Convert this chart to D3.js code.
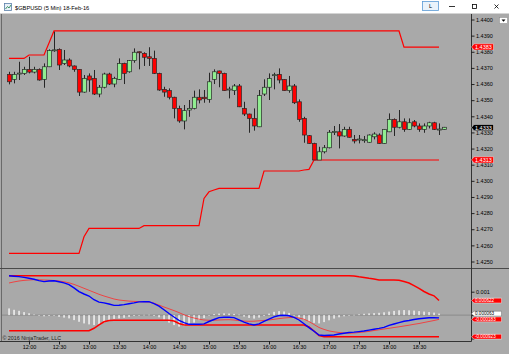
<!DOCTYPE html>
<html><head><meta charset="utf-8">
<script src="https://cdn.jsdelivr.net/npm/d3@7"></script>
<style>
html,body{margin:0;padding:0;background:#fff;}
svg{display:block;font-family:"Liberation Sans",Arial,sans-serif;}
</style>
</head><body>
<svg id="c" width="509" height="354"></svg>
<script>
// ---------------- DATA ----------------
const titleText = "$GBPUSD (5 Min)  18-Feb-16";
const times = ["11:40","11:45","11:50","11:55",
"12:00","12:05","12:10","12:15","12:20","12:25","12:30","12:35","12:40","12:45","12:50","12:55",
"13:00","13:05","13:10","13:15","13:20","13:25","13:30","13:35","13:40","13:45","13:50","13:55",
"14:00","14:05","14:10","14:15","14:20","14:25","14:30","14:35","14:40","14:45","14:50","14:55",
"15:00","15:05","15:10","15:15","15:20","15:25","15:30","15:35","15:40","15:45","15:50","15:55",
"16:00","16:05","16:10","16:15","16:20","16:25","16:30","16:35","16:40","16:45","16:50","16:55",
"17:00","17:05","17:10","17:15","17:20","17:25","17:30","17:35","17:40","17:45","17:50","17:55",
"18:00","18:05","18:10","18:15","18:20","18:25","18:30","18:35","18:40","18:45","18:50","18:55"];
const timeTickLabels = ["12:00","12:30","13:00","13:30","14:00","14:30","15:00","15:30","16:00","16:30","17:00","17:30","18:00","18:30"];

const open  = [1.43660,1.43629,1.43664,1.43666,1.43691,1.43674,1.43691,1.43629,1.43707,1.43810,
1.43815,1.43728,1.43749,1.43712,1.43691,1.43550,1.43650,1.43635,1.43538,1.43580,
1.43662,1.43600,1.43629,1.43728,1.43676,1.43745,1.43800,1.43790,1.43769,1.43759,
1.43666,1.43567,1.43559,1.43518,1.43449,1.43371,1.43439,1.43449,1.43518,1.43518,
1.43505,1.43629,1.43681,1.43666,1.43565,1.43559,1.43588,1.43449,1.43414,1.43387,
1.43335,1.43538,1.43580,1.43654,1.43660,1.43629,1.43559,1.43588,1.43490,1.43387,
1.43280,1.43232,1.43129,1.43180,1.43205,1.43302,1.43304,1.43278,1.43319,1.43257,
1.43255,1.43251,1.43239,1.43273,1.43284,1.43232,1.43304,1.43381,1.43332,1.43366,
1.43319,1.43366,1.43340,1.43319,1.43340,1.43360,1.43317,1.43319];
const high  = [1.43676,1.43676,1.43738,1.43707,1.43769,1.43707,1.43697,1.43728,1.43815,1.43925,
1.43821,1.43811,1.43759,1.43715,1.43693,1.43656,1.43666,1.43687,1.43594,1.43670,
1.43670,1.43645,1.43759,1.43732,1.43749,1.43821,1.43802,1.43797,1.43828,1.43807,
1.43670,1.43583,1.43573,1.43521,1.43466,1.43470,1.43501,1.43559,1.43567,1.43563,
1.43670,1.43691,1.43683,1.43670,1.43583,1.43600,1.43600,1.43490,1.43416,1.43449,
1.43563,1.43629,1.43666,1.43670,1.43697,1.43631,1.43650,1.43600,1.43505,1.43397,
1.43284,1.43236,1.43211,1.43222,1.43315,1.43340,1.43352,1.43335,1.43335,1.43284,
1.43284,1.43278,1.43288,1.43301,1.43294,1.43321,1.43418,1.43387,1.43439,1.43387,
1.43387,1.43377,1.43356,1.43356,1.43366,1.43366,1.43356,1.43334];
const low   = [1.43598,1.43604,1.43625,1.43656,1.43666,1.43666,1.43621,1.43577,1.43705,1.43800,
1.43687,1.43718,1.43704,1.43676,1.43526,1.43546,1.43552,1.43532,1.43518,1.43573,
1.43594,1.43580,1.43625,1.43600,1.43670,1.43732,1.43691,1.43712,1.43712,1.43662,
1.43558,1.43521,1.43505,1.43387,1.43360,1.43319,1.43397,1.43443,1.43480,1.43484,
1.43484,1.43600,1.43580,1.43557,1.43511,1.43532,1.43457,1.43402,1.43298,1.43311,
1.43333,1.43526,1.43501,1.43567,1.43604,1.43557,1.43546,1.43476,1.43366,1.43236,
1.43230,1.43129,1.43130,1.43170,1.43201,1.43284,1.43201,1.43273,1.43268,1.43232,
1.43232,1.43236,1.43236,1.43257,1.43230,1.43230,1.43302,1.43278,1.43325,1.43304,
1.43315,1.43332,1.43304,1.43298,1.43325,1.43315,1.43284,1.43317];
const close = [1.43614,1.43660,1.43668,1.43691,1.43674,1.43691,1.43625,1.43707,1.43807,1.43812,
1.43718,1.43749,1.43712,1.43691,1.43550,1.43635,1.43625,1.43538,1.43580,1.43662,
1.43600,1.43635,1.43728,1.43666,1.43745,1.43797,1.43794,1.43766,1.43759,1.43666,
1.43563,1.43550,1.43518,1.43449,1.43371,1.43435,1.43449,1.43518,1.43501,1.43509,
1.43614,1.43676,1.43666,1.43559,1.43569,1.43588,1.43459,1.43414,1.43387,1.43340,
1.43528,1.43580,1.43635,1.43658,1.43625,1.43559,1.43588,1.43484,1.43381,1.43284,
1.43232,1.43129,1.43180,1.43205,1.43301,1.43306,1.43278,1.43319,1.43270,1.43247,
1.43259,1.43255,1.43284,1.43290,1.43232,1.43319,1.43381,1.43332,1.43366,1.43319,
1.43360,1.43340,1.43319,1.43340,1.43360,1.43319,1.43321,1.43332];

// price channel (upper / lower), one value per completed bar
const channelUpper = [1.43759,1.43759,1.43759,1.43759,1.43780,1.43780,1.43780,1.43780,1.43854,1.43929,
1.43929,1.43929,1.43929,1.43929,1.43929,1.43929,1.43929,1.43929,1.43929,1.43929,
1.43929,1.43929,1.43929,1.43929,1.43929,1.43929,1.43929,1.43929,1.43929,1.43929,
1.43929,1.43929,1.43929,1.43929,1.43929,1.43929,1.43929,1.43929,1.43929,1.43929,
1.43929,1.43929,1.43929,1.43929,1.43929,1.43929,1.43929,1.43929,1.43929,1.43929,
1.43929,1.43929,1.43929,1.43929,1.43929,1.43929,1.43929,1.43929,1.43929,1.43929,
1.43929,1.43929,1.43929,1.43929,1.43929,1.43929,1.43929,1.43929,1.43929,1.43929,
1.43929,1.43929,1.43929,1.43929,1.43929,1.43929,1.43929,1.43929,1.43929,1.43829,
1.43829,1.43829,1.43829,1.43829,1.43829,1.43829,1.43829];
const channelLower = [1.42550,1.42550,1.42550,1.42550,1.42550,1.42550,1.42550,1.42550,1.42550,1.42550,
1.42550,1.42550,1.42550,1.42550,1.42550,1.42653,1.42705,1.42705,1.42705,1.42705,
1.42705,1.42705,1.42705,1.42705,1.42705,1.42705,1.42705,1.42722,1.42722,1.42722,
1.42722,1.42722,1.42722,1.42722,1.42722,1.42722,1.42722,1.42722,1.42722,1.42891,
1.42932,1.42943,1.42953,1.42953,1.42953,1.42953,1.42953,1.42953,1.42953,1.42953,
1.42953,1.43061,1.43061,1.43061,1.43061,1.43061,1.43061,1.43061,1.43061,1.43067,
1.43071,1.43129,1.43129,1.43129,1.43129,1.43129,1.43129,1.43129,1.43129,1.43129,
1.43129,1.43129,1.43129,1.43129,1.43129,1.43129,1.43129,1.43129,1.43129,1.43129,
1.43129,1.43129,1.43129,1.43129,1.43129,1.43129,1.43129];

// lower panel (MACD style)
const macdLine = [0.001684,0.001663,0.001645,0.001611,0.001577,0.001530,0.001475,0.001432,0.001457,0.001466,
0.001423,0.001376,0.001304,0.001163,0.001004,0.000902,0.000816,0.000658,0.000556,0.000521,
0.000474,0.000415,0.000423,0.000449,0.000483,0.000521,0.000564,0.000573,0.000573,0.000487,
0.000380,0.000231,0.000068,-0.000081,-0.000222,-0.000321,-0.000393,-0.000393,-0.000393,-0.000376,
-0.000274,-0.000188,-0.000107,-0.000094,-0.000094,-0.000107,-0.000201,-0.000299,-0.000372,-0.000425,
-0.000376,-0.000269,-0.000171,-0.000077,-0.000017,-0.000004,-0.000030,-0.000098,-0.000209,-0.000372,
-0.000534,-0.000688,-0.000851,-0.000872,-0.000863,-0.000851,-0.000808,-0.000774,-0.000744,-0.000727,
-0.000705,-0.000680,-0.000641,-0.000603,-0.000568,-0.000526,-0.000440,-0.000380,-0.000321,-0.000265,
-0.000231,-0.000188,-0.000158,-0.000137,-0.000115,-0.000111,-0.000120];
const macdAvg = [0.001372,0.001419,0.001457,0.001483,0.001500,0.001513,0.001509,0.001500,0.001492,0.001479,
0.001457,0.001423,0.001381,0.001312,0.001231,0.001145,0.001060,0.000974,0.000889,0.000816,
0.000752,0.000688,0.000645,0.000620,0.000598,0.000586,0.000577,0.000568,0.000560,0.000509,
0.000427,0.000346,0.000269,0.000192,0.000107,0.000013,-0.000068,-0.000124,-0.000175,-0.000209,
-0.000222,-0.000218,-0.000209,-0.000201,-0.000197,-0.000209,-0.000235,-0.000256,-0.000265,-0.000261,
-0.000244,-0.000227,-0.000209,-0.000180,-0.000150,-0.000124,-0.000107,-0.000098,-0.000124,-0.000175,
-0.000274,-0.000402,-0.000530,-0.000611,-0.000675,-0.000714,-0.000744,-0.000765,-0.000778,-0.000765,
-0.000744,-0.000722,-0.000697,-0.000658,-0.000628,-0.000594,-0.000564,-0.000530,-0.000500,-0.000466,
-0.000432,-0.000393,-0.000359,-0.000316,-0.000274,-0.000231,-0.000183];
const macdDiff = [0.000286,0.000227,0.000184,0.000128,0.000077,0.000026,-0.000026,-0.000051,-0.000034,-0.000026,
-0.000073,-0.000107,-0.000141,-0.000214,-0.000286,-0.000355,-0.000397,-0.000427,-0.000397,-0.000312,
-0.000214,-0.000162,-0.000141,-0.000115,-0.000073,-0.000034,-0.000013,0.000013,0.000017,-0.000034,
-0.000094,-0.000192,-0.000321,-0.000427,-0.000492,-0.000470,-0.000427,-0.000321,-0.000214,-0.000128,
-0.000021,0.000043,0.000064,0.000073,0.000064,0.000051,0.000021,-0.000064,-0.000120,-0.000150,
-0.000107,-0.000034,0.000064,0.000141,0.000171,0.000154,0.000094,-0.000021,-0.000107,-0.000192,
-0.000278,-0.000333,-0.000355,-0.000299,-0.000222,-0.000150,-0.000094,-0.000051,-0.000026,0.000013,
0.000034,0.000056,0.000073,0.000085,0.000098,0.000120,0.000150,0.000180,0.000205,0.000214,
0.000205,0.000192,0.000171,0.000150,0.000128,0.000107,0.000063];
const bandUpper = [0.001684,0.001684,0.001684,0.001684,0.001684,0.001684,0.001684,0.001684,0.001684,0.001684,
0.001684,0.001684,0.001684,0.001684,0.001684,0.001684,0.001684,0.001684,0.001684,0.001684,
0.001684,0.001684,0.001684,0.001684,0.001684,0.001684,0.001684,0.001684,0.001684,0.001684,
0.001684,0.001684,0.001684,0.001684,0.001684,0.001684,0.001684,0.001684,0.001684,0.001684,
0.001684,0.001684,0.001684,0.001684,0.001684,0.001684,0.001684,0.001684,0.001684,0.001684,
0.001684,0.001684,0.001684,0.001684,0.001684,0.001684,0.001684,0.001684,0.001684,0.001684,
0.001684,0.001684,0.001684,0.001684,0.001684,0.001684,0.001684,0.001684,0.001684,0.001671,
0.001637,0.001611,0.001573,0.001543,0.001504,0.001500,0.001500,0.001500,0.001487,0.001432,
0.001372,0.001261,0.001141,0.001009,0.000902,0.000825,0.000622];
const bandLower = [-0.000667,-0.000667,-0.000667,-0.000667,-0.000667,-0.000667,-0.000667,-0.000667,-0.000667,-0.000667,
-0.000667,-0.000667,-0.000667,-0.000667,-0.000667,-0.000667,-0.000667,-0.000564,-0.000423,-0.000286,
-0.000231,-0.000222,-0.000222,-0.000222,-0.000222,-0.000222,-0.000222,-0.000222,-0.000222,-0.000222,
-0.000222,-0.000222,-0.000222,-0.000252,-0.000359,-0.000423,-0.000423,-0.000423,-0.000423,-0.000423,
-0.000423,-0.000423,-0.000423,-0.000423,-0.000423,-0.000423,-0.000423,-0.000423,-0.000423,-0.000423,
-0.000423,-0.000423,-0.000423,-0.000423,-0.000423,-0.000423,-0.000423,-0.000423,-0.000423,-0.000423,
-0.000509,-0.000680,-0.000872,-0.000923,-0.000923,-0.000923,-0.000923,-0.000923,-0.000923,-0.000923,
-0.000923,-0.000923,-0.000923,-0.000923,-0.000923,-0.000923,-0.000923,-0.000923,-0.000923,-0.000923,
-0.000923,-0.000923,-0.000923,-0.000923,-0.000923,-0.000923,-0.000923];

const priceTicks = [1.4250,1.4260,1.4270,1.4280,1.4290,1.4300,1.4310,1.4320,1.4330,1.4340,1.4350,1.4360,1.4370,1.4380,1.4390,1.4400];
const lowerTicks = [0.001, 0, -0.001];
const lowerTickLabels = ["0.001", "", ""];

const priceMarkers = [
  {value: 1.4383, text: "1.4383", fill: "#ff0000", color: "#ffffff"},
  {value: 1.4333, text: "1.4333", fill: "#000000", color: "#ffffff"},
  {value: 1.4313, text: "1.4313", fill: "#ff0000", color: "#ffffff"}
];
const lowerMarkers = [
  {value: 0.000622, text: "0.000622", fill: "#ff0000", color: "#ffffff"},
  {value: 0.000063, text: "0.000063", fill: "#ffffff", color: "#000000"},
  {value: -0.000183, text: "-0.000183", fill: "#ff0000", color: "#ffffff"},
  {value: -0.000923, text: "-0.000923", fill: "#ff0000", color: "#ffffff"}
];
const copyrightText = "\u00a9 2016 NinjaTrader, LLC";

// ---------------- DRAW ----------------
const W = 509, H = 354;
const svg = d3.select("#c");
const BG = "#a9a9a9";
const axisX = 471.5;

svg.append("rect").attr("x",0).attr("y",0).attr("width",W).attr("height",H).attr("fill",BG);
// title bar
svg.append("rect").attr("x",0).attr("y",0).attr("width",W).attr("height",13.5).attr("fill","#ffffff");
const icon = svg.append("g");
icon.append("rect").attr("x",4.5).attr("y",3.5).attr("width",7).attr("height",7).attr("fill","#e8f0f8").attr("stroke","#5a7fa8").attr("stroke-width",0.8);
icon.append("path").attr("d","M5.5,9 L7.5,6.5 L9,8 L11,5").attr("fill","none").attr("stroke","#2e8b57").attr("stroke-width",0.9);
svg.append("text").attr("x",15).attr("y",9.6).attr("font-size",5.7).attr("fill","#000").text(titleText);
// window buttons
svg.append("rect").attr("x",422.5).attr("y",1.5).attr("width",16).attr("height",9).attr("fill","#eaf3fb").attr("stroke","#5b9bd5").attr("stroke-width",0.8);
svg.append("text").attr("x",430.5).attr("y",8).attr("font-size",5.5).attr("text-anchor","middle").attr("fill","#000").text("L");
svg.append("line").attr("x1",449).attr("x2",455).attr("y1",6.5).attr("y2",6.5).attr("stroke","#000").attr("stroke-width",0.8);
svg.append("rect").attr("x",472.5).attr("y",4.5).attr("width",4).attr("height",4).attr("fill","none").attr("stroke","#000").attr("stroke-width",0.8);
svg.append("path").attr("d","M494.5,4.5 L498.5,8.5 M498.5,4.5 L494.5,8.5").attr("stroke","#000").attr("stroke-width",0.8);

// scales
const x = d3.scalePoint().domain(times).range([9, 444]);
const y = d3.scaleLinear().domain([1.4250, 1.4400]).range([261.5, 19.5]);
const yl = d3.scaleLinear().domain([-0.001, 0.001]).range([338.5, 291.7]);

// frames
svg.append("line").attr("x1",1.5).attr("x2",1.5).attr("y1",14).attr("y2",341.5).attr("stroke","#6a6a6a").attr("stroke-width",1);
svg.append("line").attr("x1",0).attr("x2",W).attr("y1",268.5).attr("y2",268.5).attr("stroke","#4a4a4a").attr("stroke-width",1);
svg.append("line").attr("x1",0).attr("x2",axisX).attr("y1",341.5).attr("y2",341.5).attr("stroke","#333").attr("stroke-width",1);
svg.append("line").attr("x1",axisX).attr("x2",axisX).attr("y1",14).attr("y2",341.5).attr("stroke","#333").attr("stroke-width",1);

// price channel
const chLine = d3.line().x((d,i)=>x(times[i])).y(d=>y(d));
svg.append("path").attr("d",chLine(channelUpper)).attr("fill","none").attr("stroke","#ff0000").attr("stroke-width",1.2);
svg.append("path").attr("d",chLine(channelLower)).attr("fill","none").attr("stroke","#ff0000").attr("stroke-width",1.2);

// candles
const candles = svg.append("g");
times.forEach((t,i)=>{
  const cx = Math.round(x(t)) + 0.5;
  const up = close[i] >= open[i];
  candles.append("line").attr("x1",cx).attr("x2",cx).attr("y1",y(high[i])).attr("y2",y(low[i]))
    .attr("stroke","#262626").attr("stroke-width",1);
  const top = y(Math.max(open[i],close[i])), bot = y(Math.min(open[i],close[i]));
  const h = Math.max(bot-top, 1);
  candles.append("rect").attr("x",cx-2).attr("y",top).attr("width",4).attr("height",h)
    .attr("fill", up ? "#90ee90" : "#ff0000").attr("stroke","#2a2a2a").attr("stroke-width",0.7);
});

// lower panel
svg.append("line").attr("x1",2).attr("x2",axisX).attr("y1",yl(0)).attr("y2",yl(0)).attr("stroke","#8a8a8a").attr("stroke-width",1);
const hist = svg.append("g");
macdDiff.forEach((v,i)=>{
  const cx = x(times[i]);
  const y0 = yl(0), y1 = yl(v);
  hist.append("rect").attr("x",cx-0.6).attr("y",Math.min(y0,y1)).attr("width",1.3).attr("height",Math.max(Math.abs(y1-y0),0.6)).attr("fill","#ffffff");
});
const lLine = d3.line().x((d,i)=>x(times[i])).y(d=>yl(d));
svg.append("path").attr("d",lLine(bandUpper)).attr("fill","none").attr("stroke","#ff0000").attr("stroke-width",1.5);
svg.append("path").attr("d",lLine(bandLower)).attr("fill","none").attr("stroke","#ff0000").attr("stroke-width",1.5);
svg.append("path").attr("d",lLine(macdAvg)).attr("fill","none").attr("stroke","#ff2a2a").attr("stroke-width",0.8);
svg.append("path").attr("d",lLine(macdLine)).attr("fill","none").attr("stroke","#0000ff").attr("stroke-width",1.4);

// copyright
svg.append("text").attr("x",2.5).attr("y",339.5).attr("font-size",5.3).attr("fill","#222").text(copyrightText);

// axes
function styleAxis(g){
  g.select(".domain").remove();
  g.selectAll(".tick line").attr("stroke","#000").attr("stroke-width",0.8);
  g.selectAll(".tick text").attr("fill","#000").attr("font-size",5.5).attr("font-family","Liberation Sans, Arial, sans-serif");
  g.selectAll(".tick text").filter(function(){ return this.textContent === ""; }).remove();
}
const ax1 = svg.append("g").attr("transform",`translate(${axisX},0)`)
  .call(d3.axisRight(y).tickValues(priceTicks).tickSize(3).tickPadding(1.5).tickFormat(d3.format(".4f")));
styleAxis(ax1);
const ax2 = svg.append("g").attr("transform",`translate(${axisX},0)`)
  .call(d3.axisRight(yl).tickValues(lowerTicks).tickSize(3).tickPadding(1.5).tickFormat((d,i)=>lowerTickLabels[i]));
styleAxis(ax2);
const ax3 = svg.append("g").attr("transform","translate(0,341.5)")
  .call(d3.axisBottom(x).tickValues(timeTickLabels).tickSize(3).tickPadding(0.5));
styleAxis(ax3);

// markers
function marker(m, yy, w, hh, fs){
  const g = svg.append("g");
  g.append("path").attr("d",`M${axisX},${yy} L${axisX+2.5},${yy-hh/2} L${axisX+w},${yy-hh/2} L${axisX+w},${yy+hh/2} L${axisX+2.5},${yy+hh/2} Z`)
    .attr("fill",m.fill).attr("stroke", m.fill==="#ffffff" ? "#555" : "#ffffff").attr("stroke-width",0.4);
  g.append("text").attr("x",axisX+3.5).attr("y",yy).attr("dy","0.35em").attr("font-size",fs).attr("fill",m.color).text(m.text);
}
priceMarkers.forEach(m=>marker(m, y(m.value), 22, 6.2, 5.5));
lowerMarkers.forEach(m=>marker(m, yl(m.value), 30, 4.8, 4.6));

// dropdown button
svg.append("rect").attr("x",499.5).attr("y",17.5).attr("width",8).attr("height",6).attr("fill","#ffffff").attr("stroke","#888").attr("stroke-width",0.5);
svg.append("path").attr("d","M501.5,19.5 L505.5,19.5 L503.5,21.8 Z").attr("fill","#000");
</script>
</body></html>
